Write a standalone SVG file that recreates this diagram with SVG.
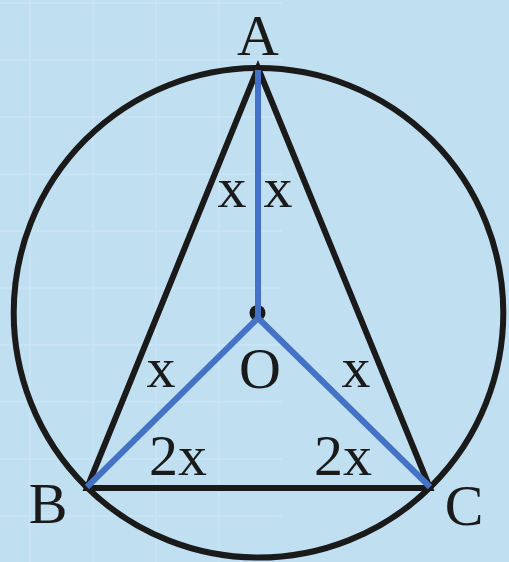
<svg xmlns="http://www.w3.org/2000/svg" width="509" height="562" viewBox="0 0 509 562">
  <style>
    .blk { fill: none; stroke: #1a1a1a; stroke-width: 6; stroke-linejoin: miter; }
    .blu { fill: none; stroke: #4472c4; stroke-width: 6; stroke-linecap: butt; }
    .lbl { font-family: "Liberation Serif", "Times New Roman", serif; font-size: 58px; fill: #1a1a1a; text-anchor: middle; }
  </style>
  <rect x="0" y="0" width="509" height="562" fill="#c0dff1"/>
  <g id="grid" stroke="#c8e3f3" stroke-width="2">
    <line x1="30" y1="0" x2="30" y2="562"/>
    <line x1="93" y1="0" x2="93" y2="562"/>
    <line x1="156" y1="0" x2="156" y2="562"/>
    <line x1="219" y1="0" x2="219" y2="562"/>
    <line x1="0" y1="3" x2="282" y2="3"/>
    <line x1="0" y1="60" x2="282" y2="60"/>
    <line x1="0" y1="117" x2="282" y2="117"/>
    <line x1="0" y1="174" x2="282" y2="174"/>
    <line x1="0" y1="231" x2="282" y2="231"/>
    <line x1="0" y1="288" x2="282" y2="288"/>
    <line x1="0" y1="345" x2="282" y2="345"/>
    <line x1="0" y1="402" x2="282" y2="402"/>
    <line x1="0" y1="459" x2="282" y2="459"/>
    <line x1="0" y1="516" x2="282" y2="516"/>
  </g>
  <g id="circle">
    <circle cx="258.5" cy="312.8" r="244.8" class="blk"/>
  </g>
  <g id="triangle">
    <polygon points="258,68 87,488 430,488" class="blk"/>
  </g>
  <g id="O">
    <circle cx="257.5" cy="313" r="8" fill="#1a1a1a"/>
    <text x="260" y="388" class="lbl">O</text>
  </g>
  <g id="connectors">
    <polyline points="258,70 258,318" class="blu"/>
    <line x1="258" y1="318" x2="87" y2="487" class="blu"/>
    <line x1="258" y1="318" x2="430" y2="487" class="blu"/>
  </g>
  <g id="A"><text x="258" y="55" class="lbl">A</text></g>
  <g id="B"><text x="48" y="523" class="lbl">B</text></g>
  <g id="C"><text x="464" y="525" class="lbl">C</text></g>
  <g id="angles">
    <text x="232" y="207" class="lbl">x</text>
    <text x="278" y="207" class="lbl">x</text>
    <text x="161" y="387" class="lbl">x</text>
    <text x="356" y="387" class="lbl">x</text>
    <text x="178" y="475" class="lbl">2x</text>
    <text x="343" y="475" class="lbl">2x</text>
  </g>
</svg>
